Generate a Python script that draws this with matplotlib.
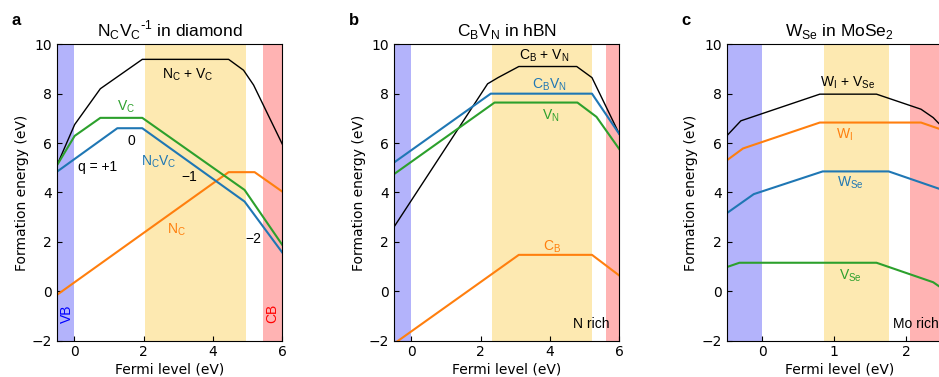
import matplotlib.pyplot as plt

BLACK = "black"; BLUE = "tab:blue"; ORANGE = "tab:orange"; GREEN = "tab:green"
VB_C = "#b3b3fb"; CB_C = "#ffb3b3"; MID_C = "#fde9b1"
LABEL_FONT = ["Liberation Sans", "DejaVu Sans"]

# ---- panel a: NcVc in diamond ----
a_pair_x = [-0.5, 0.01, 0.75, 1.96, 4.45, 4.88, 5.17, 6.0]
a_pair_y = [5.1, 6.75, 8.2, 9.39, 9.39, 8.95, 8.35, 5.95]
a_vc_x = [-0.5, 0.01, 0.75, 1.96, 4.91, 6.0]
a_vc_y = [5.1, 6.29, 7.02, 7.02, 4.1, 1.87]
a_ncvc_x = [-0.5, 1.24, 1.96, 4.91, 6.0]
a_ncvc_y = [4.84, 6.6, 6.6, 3.63, 1.56]
a_nc_x = [-0.5, 4.45, 5.2, 6.0]
a_nc_y = [-0.15, 4.82, 4.82, 4.03]

# ---- panel b: CbVn in hBN ----
b_pair_x = [-0.5, 2.2, 2.5, 3.1, 4.77, 5.21, 6.0]
b_pair_y = [2.6, 8.4, 8.65, 9.1, 9.1, 8.65, 6.36]
b_cbvn_x = [-0.5, 2.29, 5.21, 6.0]
b_cbvn_y = [5.21, 8.0, 8.0, 6.36]
b_vn_x = [-0.5, 2.4, 4.79, 5.34, 6.0]
b_vn_y = [4.74, 7.64, 7.64, 7.06, 5.75]
b_cb_x = [-0.5, 3.1, 5.21, 6.0]
b_cb_y = [-2.13, 1.47, 1.47, 0.63]

# ---- panel c: WSe in MoSe2 ----
c_pair_x = [-0.5, -0.3, 0.8, 1.59, 2.21, 2.38, 2.7]
c_pair_y = [6.28, 6.9, 7.98, 7.98, 7.37, 7.03, 6.07]
c_wi_x = [-0.5, -0.27, 0.8, 2.21, 2.7]
c_wi_y = [5.29, 5.78, 6.83, 6.83, 6.34]
c_wse_x = [-0.5, -0.12, 0.84, 1.76, 2.7]
c_wse_y = [3.15, 3.93, 4.85, 4.85, 3.91]
c_vse_x = [-0.5, -0.32, 1.59, 2.38, 2.7]
c_vse_y = [0.97, 1.15, 1.15, 0.36, -0.28]

fig = plt.figure(figsize=(9.39, 3.77), dpi=100)
bot, hgt, wid = 0.0968, 0.7857, 0.2400
axes = [fig.add_axes([0.0607, bot, wid, hgt]),
        fig.add_axes([0.4196, bot, wid, hgt]),
        fig.add_axes([0.7737, bot, wid, hgt])]


def setup(ax, xmax, xticks, vb, mid, cb, title, letter, lx):
    ax.set_xlim(-0.5, xmax); ax.set_ylim(-2, 10)
    ax.axvspan(vb[0], vb[1], color=VB_C, lw=0, zorder=0)
    ax.axvspan(mid[0], mid[1], color=MID_C, lw=0, zorder=0)
    ax.axvspan(cb[0], cb[1], color=CB_C, lw=0, zorder=0)
    ax.set_xticks(xticks); ax.set_yticks([-2, 0, 2, 4, 6, 8, 10])
    ax.tick_params(direction="in", labelsize=10, length=3.5)
    ax.set_xlabel("Fermi level (eV)", fontsize=10, labelpad=2)
    ax.set_ylabel("Formation energy (eV)", fontsize=10, labelpad=2)
    ax.set_title(title, fontsize=12.5, family=LABEL_FONT, pad=6)
    ax.text(lx, 1.08, letter, transform=ax.transAxes, fontsize=12,
            fontweight="bold", family=LABEL_FONT, va="center")


def lab(ax, x, y, s, c, **kw):
    ax.text(x, y, s, color=c, fontsize=10, family=LABEL_FONT,
            ha="center", va="center", **kw)


ax = axes[0]
setup(ax, 6, [0, 2, 4, 6], (-0.5, 0), (2.03, 4.95), (5.45, 6),
      r"N$_\mathregular{C}$V$_\mathregular{C}$$^\mathregular{\text{-}1}$ in diamond", "a", -0.2)
ax.plot(a_pair_x, a_pair_y, color=BLACK, lw=1.0)
ax.plot(a_nc_x, a_nc_y, color=ORANGE, lw=1.5)
ax.plot(a_ncvc_x, a_ncvc_y, color=BLUE, lw=1.5)
ax.plot(a_vc_x, a_vc_y, color=GREEN, lw=1.5)
lab(ax, 3.26, 8.76, r"N$_\mathregular{C}$ + V$_\mathregular{C}$", BLACK)
lab(ax, 1.48, 7.45, r"V$_\mathregular{C}$", GREEN)
lab(ax, 1.64, 6.1, "0", BLACK)
lab(ax, 0.66, 5.04, "q = +1", BLACK)
lab(ax, 2.44, 5.25, r"N$_\mathregular{C}$V$_\mathregular{C}$", BLUE)
lab(ax, 3.31, 4.64, "\u22121", BLACK)
lab(ax, 2.93, 2.48, r"N$_\mathregular{C}$", ORANGE)
lab(ax, 5.15, 2.1, "\u22122", BLACK)
lab(ax, -0.22, -0.9, "VB", "blue", rotation=90)
lab(ax, 5.72, -0.9, "CB", "red", rotation=90)

ax = axes[1]
setup(ax, 6, [0, 2, 4, 6], (-0.5, 0), (2.33, 5.2), (5.61, 6),
      r"C$_\mathregular{B}$V$_\mathregular{N}$ in hBN", "b", -0.2)
ax.plot(b_pair_x, b_pair_y, color=BLACK, lw=1.0)
ax.plot(b_cb_x, b_cb_y, color=ORANGE, lw=1.5)
ax.plot(b_cbvn_x, b_cbvn_y, color=BLUE, lw=1.5)
ax.plot(b_vn_x, b_vn_y, color=GREEN, lw=1.5)
lab(ax, 3.83, 9.53, r"C$_\mathregular{B}$ + V$_\mathregular{N}$", BLACK)
lab(ax, 3.97, 8.36, r"C$_\mathregular{B}$V$_\mathregular{N}$", BLUE)
lab(ax, 4.02, 7.1, r"V$_\mathregular{N}$", GREEN)
lab(ax, 4.07, 1.8, r"C$_\mathregular{B}$", ORANGE)
lab(ax, 5.18, -1.33, "N rich", BLACK)

ax = axes[2]
setup(ax, 2.64, [0, 1, 2], (-0.5, 0), (0.86, 1.76), (2.06, 2.64),
      r"W$_\mathregular{Se}$ in MoSe$_\mathregular{2}$", "c", -0.2)
ax.plot(c_pair_x, c_pair_y, color=BLACK, lw=1.0)
ax.plot(c_wi_x, c_wi_y, color=ORANGE, lw=1.5)
ax.plot(c_wse_x, c_wse_y, color=BLUE, lw=1.5)
ax.plot(c_vse_x, c_vse_y, color=GREEN, lw=1.5)
lab(ax, 1.19, 8.46, r"W$_\mathregular{I}$ + V$_\mathregular{Se}$", BLACK)
lab(ax, 1.15, 6.35, r"W$_\mathregular{I}$", ORANGE)
lab(ax, 1.22, 4.37, r"W$_\mathregular{Se}$", BLUE)
lab(ax, 1.22, 0.63, r"V$_\mathregular{Se}$", GREEN)
ax.text(1.82, -1.35, "Mo rich", color=BLACK, fontsize=10, family=LABEL_FONT,
        ha="left", va="center")

fig.savefig("out.png", dpi=100, facecolor="white")
